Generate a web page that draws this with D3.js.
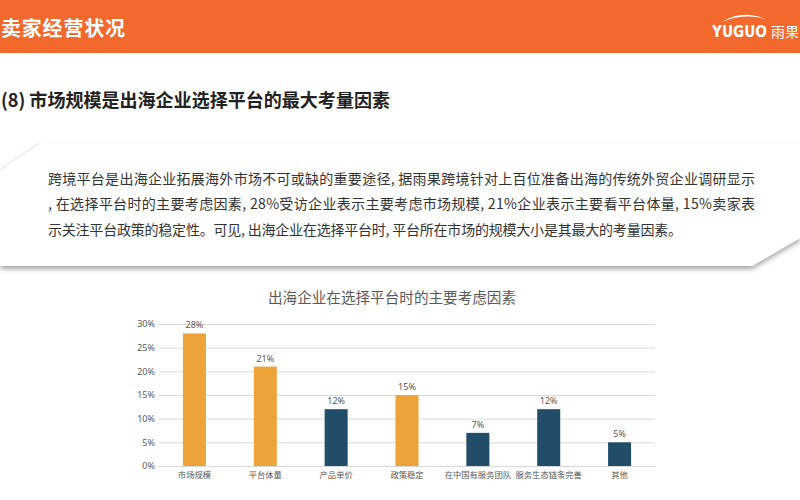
<!DOCTYPE html>
<html><head><meta charset="utf-8">
<script src="https://cdn.jsdelivr.net/npm/d3@7"></script>
<style>
html,body{margin:0;padding:0;background:#fff;overflow:hidden;}
svg{display:block;font-family:"Noto Sans CJK SC","Noto Sans",sans-serif;}
</style></head>
<body>
<script>
const categories = ["市场规模","平台体量","产品单价","政策稳定","在中国有服务团队","服务生态链条完善","其他"];
const values = [28, 21, 12, 15, 7, 12, 5];
const highlight = [true, true, false, true, false, false, false];
const yTicks = [0, 5, 10, 15, 20, 25, 30];
const headerTitle = "卖家经营状况";
const sectionTitle = "(8) 市场规模是出海企业选择平台的最大考量因素";
const bodyLines = [
  "跨境平台是出海企业拓展海外市场不可或缺的重要途径, 据雨果跨境针对上百位准备出海的传统外贸企业调研显示",
  ", 在选择平台时的主要考虑因素, 28%受访企业表示主要考虑市场规模, 21%企业表示主要看平台体量, 15%卖家表",
  "示关注平台政策的稳定性。可见, 出海企业在选择平台时, 平台所在市场的规模大小是其最大的考量因素。"
];
const chartTitle = "出海企业在选择平台时的主要考虑因素";

const W = 800, H = 500;
const svg = d3.select("body").append("svg").attr("width", W).attr("height", H);
const defs = svg.append("defs");
const f = defs.append("filter").attr("id","sh").attr("x","-5%").attr("y","-10%").attr("width","110%").attr("height","130%");
f.append("feDropShadow").attr("dx",0).attr("dy",3).attr("stdDeviation",2.5).attr("flood-color","#000").attr("flood-opacity",0.35);

// header band
svg.append("rect").attr("x",0).attr("y",0).attr("width",W).attr("height",53).attr("fill","#F1692D");
svg.append("text").attr("x",1).attr("y",36).attr("fill","#fff").attr("font-size",20).attr("font-weight","bold")
  .attr("textLength",124).attr("lengthAdjust","spacing").text(headerTitle);
// logo
const logo = svg.append("g");
logo.append("path").attr("d","M722,22 Q742,9 766,19 Q744,13 722,22 Z").attr("fill","#fff");
logo.append("text").attr("x",712).attr("y",37).attr("fill","#fff").attr("font-size",16).attr("font-weight","bold")
  .attr("font-family","'Liberation Sans Narrow','DejaVu Sans Condensed',sans-serif").attr("textLength",55).attr("lengthAdjust","spacingAndGlyphs").text("YUGUO");
logo.append("text").attr("x",771).attr("y",37).attr("fill","#fff").attr("font-size",14).text("雨果");

// section title
svg.append("text").attr("x",1).attr("y",107).attr("fill","#222").attr("font-size",18.5).attr("font-weight","bold")
  .attr("textLength",389).attr("lengthAdjust","spacingAndGlyphs").text(sectionTitle);

// text box
svg.append("path").attr("d","M40,143 L800,143 L800,238 L752,266 L0,266 L0,168 Z")
  .attr("fill","#fff").attr("filter","url(#sh)");
svg.append("path").attr("d","M40,143 L0,170").attr("stroke","#eee").attr("stroke-width",1.5).attr("fill","none");
const bodyLen = [707, 707, 634];
bodyLines.forEach((t,i)=>{
  svg.append("text").attr("x",48).attr("y",184+i*25.3).attr("fill","#333").attr("font-size",14)
    .attr("textLength",bodyLen[i]).attr("lengthAdjust","spacing").text(t);
});

// chart
const x = d3.scaleBand().domain(categories).range([159,655]).paddingInner(0.675).paddingOuter(0.3375);
const y = d3.scaleLinear().domain([0,30]).range([466,324]);

svg.append("text").attr("x",392).attr("y",303).attr("text-anchor","middle").attr("fill","#595959").attr("font-size",14.6).text(chartTitle);

const yAxis = d3.axisLeft(y).tickValues(yTicks).tickFormat(d=>d+"%").tickSize(-(655-159)).tickPadding(4);
const ga = svg.append("g").attr("transform","translate(159,0)").call(yAxis);
ga.select(".domain").remove();
ga.selectAll(".tick line").attr("stroke","#d9d9d9").attr("stroke-width",1);
ga.selectAll(".tick text").attr("fill","#595959").attr("font-size",9).attr("font-family","'Noto Sans',sans-serif");

svg.append("g").selectAll("rect").data(values).join("rect")
  .attr("x",(d,i)=>x(categories[i])).attr("width",x.bandwidth())
  .attr("y",d=>y(d)).attr("height",d=>y(0)-y(d))
  .attr("fill",(d,i)=>highlight[i]?"#EBA33A":"#214D68");

svg.append("g").selectAll("text").data(values).join("text")
  .attr("x",(d,i)=>x(categories[i])+x.bandwidth()/2).attr("y",d=>y(d)-5)
  .attr("text-anchor","middle").attr("fill","#595959").attr("font-size",9).attr("font-family","'Noto Sans',sans-serif")
  .text(d=>d+"%");

const xAxis = d3.axisBottom(x).tickSize(0).tickPadding(6);
const gx = svg.append("g").attr("transform","translate(0,466)").call(xAxis);
gx.select(".domain").attr("stroke","#d9d9d9");
gx.selectAll(".tick text").attr("fill","#595959").attr("font-size",8.3).attr("font-family","'Noto Sans CJK SC',sans-serif");
</script>
</body></html>
